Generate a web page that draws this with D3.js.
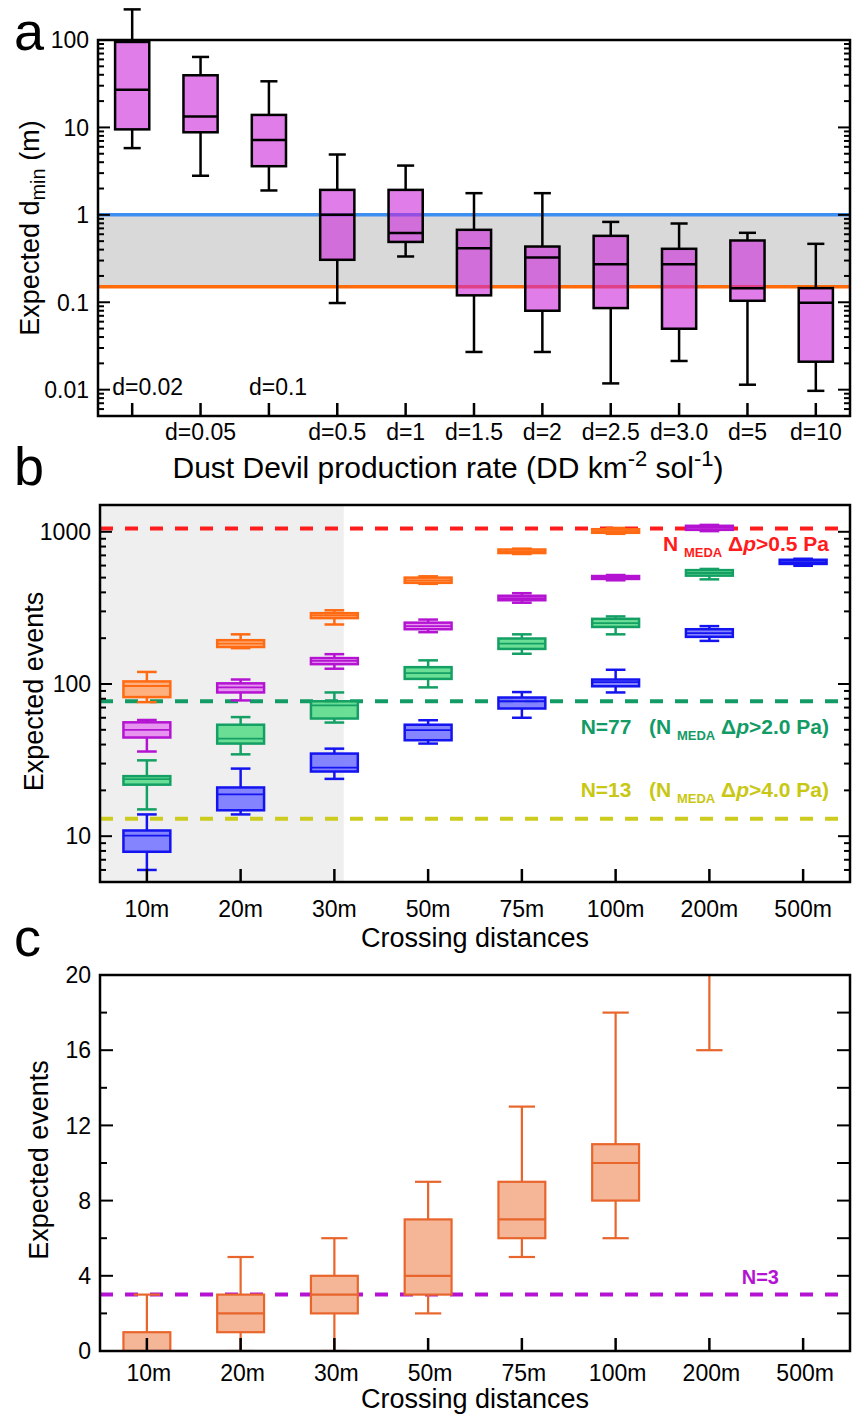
<!DOCTYPE html>
<html>
<head>
<meta charset="utf-8">
<script src="https://cdn.jsdelivr.net/npm/d3@7"></script>
<style>
  body { margin: 0; background: #fff; }
  text { font-family: 'Liberation Sans', Arial, Helvetica, sans-serif; fill: #000; }
</style>
</head>
<body>
<svg id="chart" width="854" height="1417"></svg>
<script>
// ---- panel a : expected d_min per dust devil production rate ----
var rateLabels = ['d=0.02','d=0.05','d=0.1','d=0.5','d=1','d=1.5','d=2','d=2.5','d=3.0','d=5','d=10'];
// [low whisker, q1, median, q3, high whisker]
var dminStats = [
  [5.8, 9.5, 27, 95, 224],
  [2.8, 8.8, 13.3, 39.5, 64],
  [1.9, 3.6, 7.2, 13.9, 33.7],
  [0.098, 0.306, 1.0, 1.93, 4.9],
  [0.334, 0.49, 0.618, 1.93, 3.66],
  [0.027, 0.12, 0.416, 0.674, 1.77],
  [0.027, 0.08, 0.325, 0.434, 1.77],
  [0.0118, 0.0858, 0.273, 0.575, 0.83],
  [0.0213, 0.0498, 0.273, 0.409, 0.796],
  [0.0114, 0.104, 0.145, 0.509, 0.623],
  [0.0097, 0.0209, 0.0987, 0.145, 0.466]
];
var dminTickValues = [0.01, 0.1, 1, 10, 100];
var dminBand = [0.15, 1];   // orange line, blue line

// ---- panel b : expected events per crossing distance ----
var crossLabels = ['10m','20m','30m','50m','75m','100m','200m','500m'];
var eventsOrange = [
  [76, 82, 97, 104, 120],
  [172, 175, 184, 194, 212],
  [246, 271, 282, 292, 305],
  [455, 462, 480, 500, 510],
  [715, 725, 740, 765, 775],
  [970, 985, 1010, 1040, 1060],
  null, null
];
var eventsPurple = [
  [36, 44.5, 50, 56, 58],
  [78, 88, 95, 101, 107],
  [126, 135, 142, 148, 157],
  [219, 229, 240, 253, 265],
  [342, 355, 367, 380, 395],
  [480, 490, 500, 512, 520],
  [1010, 1030, 1060, 1095, 1110],
  null
];
var eventsGreen = [
  [15, 21.8, 23.7, 24.8, 31.5],
  [34.5, 40.6, 43.8, 54, 60.6],
  [55.8, 59.3, 72.4, 77, 88],
  [95, 108, 118, 129, 143],
  [158, 170, 184, 199, 212],
  [212, 237, 251, 268, 278],
  [487, 515, 536, 560, 570],
  null
];
var eventsBlue = [
  [6, 7.9, 10.1, 10.9, 13.9],
  [13.9, 14.8, 18.8, 20.9, 27.8],
  [23.8, 26.6, 28.2, 34.9, 37.6],
  [40.6, 42.7, 49.7, 54, 57.8],
  [60, 69, 77, 81.5, 88.5],
  [88, 96.6, 103, 107, 124],
  [192, 204, 216, 229, 240],
  [598, 615, 632, 655, 665]
];
var eventsTickValues = [10, 100, 1000];
var medaThresholds = [1050, 77, 13];

// ---- panel c ----
var coincStats = [
  [0, 0, 0, 1, 3],
  [0, 1, 2, 3, 5],
  [0, 2, 3, 4, 6],
  [2, 3, 4, 7, 9],
  [5, 6, 7, 9, 13],
  [6, 8, 10, 11, 18],
  [16, 22, 24, 26, 30],
  null
];
var coincTickValues = [0, 4, 8, 12, 16, 20];
var coincThreshold = 3;

var svg = d3.select('#chart');

var isDecade = function(v){
  var l = Math.log10(v);
  return Math.abs(l - Math.round(l)) < 1e-9;
};

// box + whiskers for one series
var drawBoxes = function(g, cats, stats, x, y, st){
  var items = [];
  stats.forEach(function(s, i){
    if(s) items.push({cat: cats[i], low: s[0], q1: s[1], med: s[2], q3: s[3], high: s[4]});
  });
  var bw = x.step() * st.box, cw = x.step() * st.cap;
  var $box = g.selectAll(null).data(items).enter().append('g')
    .attr('transform', function(d){ return 'translate(' + x(d.cat) + ',0)'; })
    .attr('stroke', st.stroke)
    .attr('stroke-width', st.lw);

  $box.append('line').attr('y1', function(d){ return y(d.q3); }).attr('y2', function(d){ return y(d.high); });
  $box.append('line').attr('y1', function(d){ return y(d.q1); }).attr('y2', function(d){ return y(d.low); });
  $box.append('line').attr('x1', -cw/2).attr('x2', cw/2)
    .attr('y1', function(d){ return y(d.high); }).attr('y2', function(d){ return y(d.high); });
  $box.append('line').attr('x1', -cw/2).attr('x2', cw/2)
    .attr('y1', function(d){ return y(d.low); }).attr('y2', function(d){ return y(d.low); });
  $box.append('rect')
    .attr('x', -bw/2).attr('width', bw)
    .attr('y', function(d){ return y(d.q3); })
    .attr('height', function(d){ return y(d.q1) - y(d.q3); })
    .attr('fill', st.fill)
    .attr('fill-opacity', st.opacity);
  $box.append('line').attr('x1', -bw/2).attr('x2', bw/2)
    .attr('stroke-width', st.medLw || st.lw)
    .attr('y1', function(d){ return y(d.med); }).attr('y2', function(d){ return y(d.med); });
};

var drawFrame = function(g, p){
  g.append('rect')
    .attr('x', p.left).attr('y', p.top)
    .attr('width', p.right - p.left).attr('height', p.bottom - p.top)
    .attr('fill', 'none').attr('stroke', '#000').attr('stroke-width', 2.5);
};

var yTicks = function(g, ticks, y, p, len){
  [p.left, p.right].forEach(function(x0, side){
    var dir = side ? -1 : 1;
    g.selectAll(null).data(ticks).enter().append('line')
      .attr('x1', x0).attr('x2', function(d){ return x0 + dir * len(d, side); })
      .attr('y1', function(d){ return y(d); }).attr('y2', function(d){ return y(d); })
      .attr('stroke', '#000').attr('stroke-width', 2);
  });
};

var xTicks = function(g, cats, x, p){
  g.selectAll(null).data(cats).enter().append('line')
    .attr('x1', function(d){ return x(d); }).attr('x2', function(d){ return x(d); })
    .attr('y1', p.bottom).attr('y2', p.bottom - 13)
    .attr('stroke', '#000').attr('stroke-width', 2.5);
};

var yLabels = function(g, values, y, p, fmt){
  g.selectAll(null).data(values).enter().append('text')
    .attr('x', p.left - 9).attr('y', function(d){ return y(d); })
    .attr('dy', '0.36em').attr('text-anchor', 'end')
    .style('font-size', '23px')
    .text(fmt);
};

var panelLetter = function(txt, x, y){
  svg.append('text').attr('x', x).attr('y', y)
    .style('font-size', '54px').text(txt);
};

// ================= panel a =================
(function(){
  var p = {left: 98, right: 850, top: 40, bottom: 416};
  var g = svg.append('g');
  var x = d3.scalePoint().domain(rateLabels).range([p.left, p.right]).padding(0.5);
  var y = d3.scaleLog().domain([0.005, 100]).range([p.bottom, p.top]);

  g.append('rect')
    .attr('x', p.left).attr('width', p.right - p.left)
    .attr('y', y(dminBand[1])).attr('height', y(dminBand[0]) - y(dminBand[1]))
    .attr('fill', '#d9d9d9');
  g.append('line').attr('x1', p.left).attr('x2', p.right)
    .attr('y1', y(dminBand[1])).attr('y2', y(dminBand[1]))
    .attr('stroke', '#3d8ff2').attr('stroke-width', 3.5);
  g.append('line').attr('x1', p.left).attr('x2', p.right)
    .attr('y1', y(dminBand[0])).attr('y2', y(dminBand[0]))
    .attr('stroke', '#ff6a0a').attr('stroke-width', 3.5);

  drawBoxes(g, rateLabels, dminStats, x, y,
    {stroke: '#000', fill: 'rgb(203,38,217)', opacity: 0.6, lw: 2.5, box: 0.5, cap: 0.25});

  yTicks(g, y.ticks(), y, p, function(d){ return isDecade(d) ? 12 : 6; });
  xTicks(g, rateLabels, x, p);
  drawFrame(g, p);
  yLabels(g, dminTickValues, y, p, function(d){ return String(d); });

  // category labels, two of them sit inside the plot
  g.selectAll(null).data(rateLabels).enter().append('text')
    .attr('x', function(d, i){ return (i === 0 || i === 2) ? x(d) - 20 : x(d); })
    .attr('y', function(d, i){ return (i === 0 || i === 2) ? p.bottom - 21 : p.bottom + 24; })
    .attr('text-anchor', function(d, i){ return (i === 0 || i === 2) ? 'start' : 'middle'; })
    .style('font-size', '23px')
    .text(function(d){ return d; });

  var t = g.append('text').attr('x', 448).attr('y', p.bottom + 62)
    .attr('text-anchor', 'middle').style('font-size', '30px');
  t.append('tspan').text('Dust Devil production rate (DD km');
  t.append('tspan').attr('dy', -12).style('font-size', '22px').text('-2');
  t.append('tspan').attr('dy', 12).text(' sol');
  t.append('tspan').attr('dy', -12).style('font-size', '22px').text('-1');
  t.append('tspan').attr('dy', 12).text(')');

  var yt = g.append('text').attr('transform', 'translate(39,228) rotate(-90)')
    .attr('text-anchor', 'middle').style('font-size', '27px');
  yt.append('tspan').text('Expected d');
  yt.append('tspan').attr('dy', 6).style('font-size', '20px').text('min');
  yt.append('tspan').attr('dy', -6).text(' (m)');

  panelLetter('a', 14, 50);
})();

// ================= panel b =================
(function(){
  var p = {left: 100, right: 850, top: 505, bottom: 882};
  var g = svg.append('g');
  var x = d3.scalePoint().domain(crossLabels).range([p.left, p.right]).padding(0.5);
  var y = d3.scaleLog().domain([5, 1500]).range([p.bottom, p.top]);

  g.append('rect')
    .attr('x', p.left).attr('y', p.top)
    .attr('width', x('30m') + x.step() * 0.1 - p.left).attr('height', p.bottom - p.top)
    .attr('fill', '#efefef');

  var lineColors = ['#ff1c1c', '#139b66', '#cccc1e'];
  g.selectAll(null).data(medaThresholds).enter().append('line')
    .attr('x1', p.left).attr('x2', p.right)
    .attr('y1', function(d){ return y(d); }).attr('y2', function(d){ return y(d); })
    .attr('stroke', function(d, i){ return lineColors[i]; })
    .attr('stroke-width', 4)
    .attr('stroke-dasharray', '13,12');

  var series = [
    {data: eventsOrange, stroke: '#ff6a12', fill: '#ffa872'},
    {data: eventsPurple, stroke: '#b414d2', fill: '#e48af0'},
    {data: eventsGreen, stroke: '#14a064', fill: '#5cdc8c'},
    {data: eventsBlue, stroke: '#1414f0', fill: '#7878ff'}
  ];
  series.forEach(function(s){
    drawBoxes(g, crossLabels, s.data, x, y,
      {stroke: s.stroke, fill: s.fill, opacity: 0.9, lw: 2.5, medLw: 1.8, box: 0.5, cap: 0.21});
  });

  yTicks(g, y.ticks(), y, p, function(d){ return isDecade(d) ? 12 : 6; });
  xTicks(g, crossLabels, x, p);
  drawFrame(g, p);
  yLabels(g, eventsTickValues, y, p, function(d){ return String(d); });

  g.selectAll(null).data(crossLabels).enter().append('text')
    .attr('x', function(d){ return x(d); }).attr('y', p.bottom + 35)
    .attr('text-anchor', 'middle').style('font-size', '23px')
    .text(function(d){ return d; });
  g.append('text').attr('x', (p.left + p.right) / 2).attr('y', p.bottom + 65)
    .attr('text-anchor', 'middle').style('font-size', '27px').text('Crossing distances');
  g.append('text').attr('transform', 'translate(43,' + ((p.top + p.bottom) / 2 - 2) + ') rotate(-90)')
    .attr('text-anchor', 'middle').style('font-size', '27px').text('Expected events');

  // threshold annotations
  var notes = [
    {prefix: '', value: '0.5', y: 551, color: lineColors[0]},
    {prefix: 'N=77\u00a0\u00a0\u00a0(', value: '2.0', y: 734, color: lineColors[1], close: ')'},
    {prefix: 'N=13\u00a0\u00a0\u00a0(', value: '4.0', y: 797, color: '#c8c814', close: ')'}
  ];
  notes.forEach(function(n){
    var t = g.append('text').attr('x', 829).attr('y', n.y)
      .attr('text-anchor', 'end').style('font-size', '21px').style('font-weight', 'bold')
      .style('fill', n.color);
    t.append('tspan').text(n.prefix + 'N ');
    t.append('tspan').attr('dy', 6).style('font-size', '13px').text('MEDA');
    t.append('tspan').attr('dy', -6).text(' \u0394');
    t.append('tspan').style('font-style', 'italic').text('p');
    t.append('tspan').text('>' + n.value + ' Pa' + (n.close || ''));
  });

  panelLetter('b', 14, 485);
})();

// ================= panel c =================
(function(){
  var p = {left: 100, right: 850, top: 975, bottom: 1351};
  var g = svg.append('g');
  var x = d3.scalePoint().domain(crossLabels).range([p.left, p.right]).padding(0.5);
  var y = d3.scaleLinear().domain([0, 20]).range([p.bottom, p.top]);

  svg.append('clipPath').attr('id', 'clipc').append('rect')
    .attr('x', p.left).attr('y', p.top)
    .attr('width', p.right - p.left).attr('height', p.bottom - p.top);

  g.append('line').attr('x1', p.left).attr('x2', p.right)
    .attr('y1', y(coincThreshold)).attr('y2', y(coincThreshold))
    .attr('stroke', '#b414d2').attr('stroke-width', 4)
    .attr('stroke-dasharray', '13,12');

  drawBoxes(g.append('g').attr('clip-path', 'url(#clipc)'), crossLabels, coincStats, x, y,
    {stroke: '#e8652c', fill: '#f5b597', opacity: 1, lw: 2.2, box: 0.5, cap: 0.28});

  yTicks(g, d3.range(0, 21, 2), y, p, function(d, side){ return (side || d % 4 === 0) ? 13 : 7; });
  xTicks(g, crossLabels, x, p);
  drawFrame(g, p);
  yLabels(g, coincTickValues, y, p, function(d){ return String(d); });

  g.selectAll(null).data(crossLabels).enter().append('text')
    .attr('x', function(d){ return x(d) + 2; }).attr('y', p.bottom + 30)
    .attr('text-anchor', 'middle').style('font-size', '23px')
    .text(function(d){ return d; });
  g.append('text').attr('x', (p.left + p.right) / 2).attr('y', p.bottom + 57)
    .attr('text-anchor', 'middle').style('font-size', '27px').text('Crossing distances');
  g.append('text').attr('transform', 'translate(48,' + ((p.top + p.bottom) / 2 - 3) + ') rotate(-90)')
    .attr('text-anchor', 'middle').style('font-size', '27px').text('Expected events');

  g.append('text').attr('x', 779).attr('y', y(coincThreshold) - 11)
    .attr('text-anchor', 'end').style('font-size', '20px').style('font-weight', 'bold')
    .style('fill', '#b414d2').text('N=3');

  panelLetter('c', 14, 956);
})();
</script>
</body>
</html>
